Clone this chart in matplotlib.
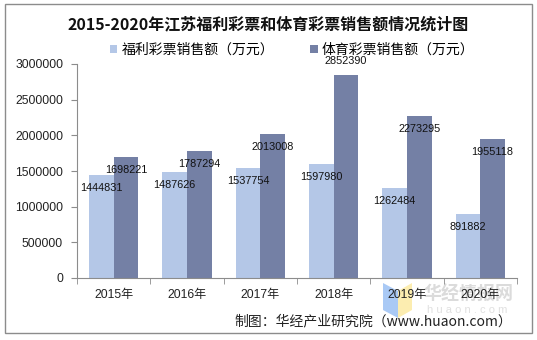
import matplotlib.pyplot as plt
import numpy as np
from matplotlib.patches import Rectangle, Polygon

years = ['2015年', '2016年', '2017年', '2018年', '2019年', '2020年']
welfare = [1444831, 1487626, 1537754, 1597980, 1262484, 891882]
sports = [1698221, 1787294, 2013008, 2852390, 2273295, 1955118]
series_names = ['福利彩票销售额（万元）', '体育彩票销售额（万元）']
yticks = [0, 500000, 1000000, 1500000, 2000000, 2500000, 3000000]

FAM = ['Liberation Sans', 'Noto Sans CJK SC', 'DejaVu Sans']
CJK = ['Noto Sans CJK SC', 'DejaVu Sans']
plt.rcParams['font.family'] = FAM

light = '#B4C7E7'
dark = '#7480A5'
W, H = 537, 340


def px(x, y):
    # pixel coords (top-left origin) -> figure fraction
    return (x / W, 1 - y / H)


fig = plt.figure(figsize=(5.37, 3.40), dpi=100)
ax = fig.add_axes([77 / W, 1 - 278 / H, 440 / W, 214 / H])
ax.set_zorder(3)

# outer frame
fig.patches.append(Rectangle(px(5, 333), 527 / W, 329 / H,
                             transform=fig.transFigure, fill=False,
                             edgecolor='#8c8c8c', linewidth=1.0))

# faint logo behind the watermark
fig.patches.append(Polygon([px(383, 283), px(398, 291), px(398, 318), px(383, 310)],
                           closed=True, transform=fig.transFigure,
                           facecolor='#a9c9f5', edgecolor='none', zorder=0))
fig.patches.append(Polygon([px(398, 291), px(412, 283), px(412, 310), px(398, 318)],
                           closed=True, transform=fig.transFigure,
                           facecolor='#fcedb0', edgecolor='none', zorder=0))

x = np.arange(len(years))
w = 0.335
b1 = ax.bar(x - w / 2, welfare, w, color=light, label=series_names[0])
b2 = ax.bar(x + w / 2, sports, w, color=dark, label=series_names[1])

for bars in (b1, b2):
    for r in bars:
        v = r.get_height()
        off = 14 if v > 2.5e6 else -13
        ax.annotate(f'{int(v)}', (r.get_x() + r.get_width() / 2, v),
                    xytext=(0, off), textcoords='offset pixels',
                    ha='center', va='center', fontsize=7.8, color='#111111')

ax.set_xlim(-0.5, len(years) - 0.5)
ax.set_ylim(0, 3000000)
ax.set_yticks(yticks)
ax.set_yticklabels([str(t) for t in yticks], fontsize=8.7, color='#222222')
ax.set_xticks(x)
ax.set_xticklabels(years, fontsize=8.7, color='#222222')
ax.set_xticks(np.arange(-0.5, len(years)), minor=True)
ax.tick_params(axis='x', which='major', length=0, pad=8)
ax.tick_params(axis='x', which='minor', length=4, color='#8c8c8c')
ax.tick_params(axis='y', length=4, color='#8c8c8c', pad=6)
for s in ['top', 'right']:
    ax.spines[s].set_visible(False)
for s in ['left', 'bottom']:
    ax.spines[s].set_color('#8c8c8c')

fig.text(*px(268, 24), '2015-2020年江苏福利彩票和体育彩票销售额情况统计图',
         ha='center', va='center', fontsize=11.5, fontweight='bold',
         family=CJK, color='#111111')

fig.legend(handles=[b1, b2], labels=series_names, loc='center',
           bbox_to_anchor=px(292, 50), ncol=2, frameon=False,
           handlelength=0.55, handleheight=0.55, handletextpad=0.3,
           columnspacing=2.6, prop={'family': CJK, 'size': 10})

# watermark
fig.text(*px(468, 294), '华经情报网', ha='center', va='center', fontsize=13,
         fontweight='bold', color='#cccccc', alpha=0.7, family=CJK, zorder=0)
fig.text(*px(467, 310), 'h u a o n . c o m', ha='center', va='center', fontsize=8,
         color='#e0e0e0', zorder=0)

fig.text(*px(512, 321), '制图：华经产业研究院（www.huaon.com）',
         ha='right', va='center', fontsize=10, color='#222222', family=CJK)

fig.savefig('out.png', dpi=100)
